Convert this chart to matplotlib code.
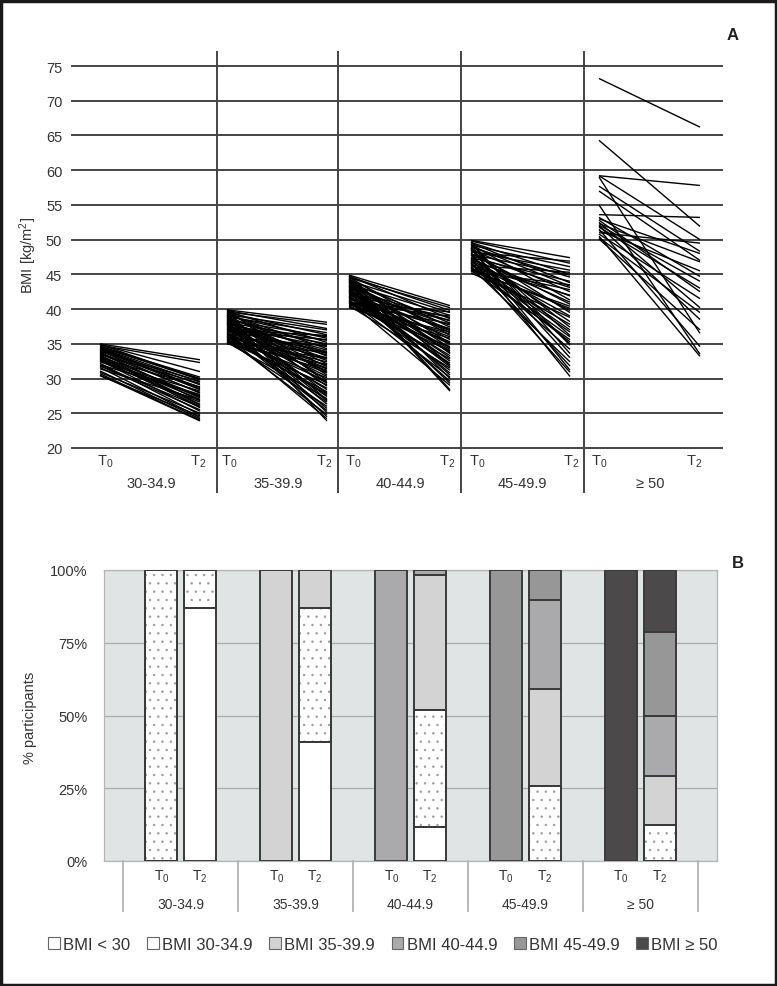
import matplotlib
matplotlib.use('Agg')
import matplotlib.pyplot as plt
from matplotlib.patches import Patch, Rectangle
import matplotlib.transforms as mtrans

plt.rcParams['font.family'] = ['Liberation Sans', 'DejaVu Sans']
plt.rcParams['mathtext.fontset'] = 'custom'
plt.rcParams['mathtext.rm'] = 'Liberation Sans'
plt.rcParams['mathtext.it'] = 'Liberation Sans:italic'
plt.rcParams['hatch.linewidth'] = 0.5

# ---------------- data: panel A (BMI at T0 and T2 per participant) ----------------
groups = ['30-34.9', '35-39.9', '40-44.9', '45-49.9', '\u2265 50']
time_labels = ['T$_0$', 'T$_2$']
bmi_ticks = [20, 25, 30, 35, 40, 45, 50, 55, 60, 65, 70, 75]

g1_t0 = [35.0, 34.8, 34.9, 34.6, 34.7, 34.4, 34.5, 34.2, 34.3, 34.0,
         34.1, 33.8, 33.9, 33.6, 33.7, 33.4, 33.5, 33.2, 33.3, 33.0,
         32.8, 32.9, 32.6, 32.4, 32.5, 32.2, 32.0, 31.8, 31.6, 31.4,
         31.1, 30.9, 30.7, 30.5, 30.4, 34.9, 34.4, 33.1, 32.7, 31.9]
g1_t2 = [32.7, 32.3, 31.0, 30.2, 29.8, 29.5, 30.0, 28.7, 29.1, 27.9,
         28.4, 26.8, 29.6, 27.2, 28.0, 26.3, 29.3, 27.5, 25.8, 28.8,
         26.0, 27.0, 25.3, 28.2, 26.6, 24.8, 27.7, 25.5, 24.4, 26.9,
         24.2, 25.0, 24.0, 23.9, 24.6, 29.9, 28.5, 26.2, 27.4, 25.9]

g2_t0 = [39.9, 39.6, 39.8, 39.2, 38.9, 39.5, 38.4, 39.0, 38.1, 39.7,
         37.8, 38.6, 37.5, 39.3, 38.0, 36.9, 38.8, 37.2, 39.4, 36.5,
         38.3, 37.7, 35.9, 39.1, 36.8, 38.5, 37.0, 35.5, 38.2, 36.3,
         39.8, 37.4, 35.8, 38.7, 36.0, 37.9, 35.3, 39.0, 36.6, 37.3,
         35.6, 38.4, 36.2, 37.6, 35.2, 39.5, 36.4, 38.0, 35.4, 37.1,
         36.7, 38.9, 35.7, 37.8, 36.1, 39.2, 35.1, 35.3, 36.0, 37.0,
         35.0, 36.9, 38.6, 35.9, 37.5, 39.9, 38.1, 36.4]
g2_t2 = [38.1, 37.8, 37.2, 37.0, 36.6, 36.3, 36.0, 35.8, 35.5, 35.2,
         35.0, 34.8, 34.6, 34.3, 34.1, 33.9, 33.7, 33.4, 33.2, 33.0,
         32.8, 32.6, 32.4, 32.1, 31.9, 31.7, 31.5, 31.2, 31.0, 30.8,
         30.5, 30.3, 30.1, 29.8, 29.6, 29.3, 29.1, 28.9, 28.6, 28.4,
         28.1, 27.9, 27.6, 27.4, 27.1, 26.9, 26.6, 26.3, 26.0, 25.7,
         25.4, 25.1, 24.8, 24.5, 24.2, 23.9, 33.8, 32.9, 34.7, 36.2,
         32.0, 35.6, 30.9, 27.8, 33.6, 29.4, 26.8, 31.4]

g3_t0 = [44.9, 44.7, 44.8, 44.5, 44.3, 44.6, 44.1, 44.0, 43.8, 44.4,
         43.6, 43.9, 43.4, 43.2, 43.7, 43.0, 42.8, 43.3, 42.6, 42.9,
         42.4, 42.2, 42.7, 42.0, 41.8, 42.5, 41.6, 41.9, 41.4, 41.2,
         41.7, 41.0, 40.8, 41.3, 40.6, 40.9, 40.4, 40.2, 40.5, 41.1,
         44.2, 43.5, 42.1, 40.7, 43.1, 42.3, 44.8, 41.5, 40.3, 43.9,
         42.6, 41.8, 44.4, 40.9, 43.3]
g3_t2 = [40.5, 39.8, 38.6, 40.2, 37.4, 36.2, 39.5, 35.1, 38.0, 33.6,
         39.1, 34.4, 37.0, 32.5, 36.6, 38.3, 31.7, 35.6, 37.7, 33.0,
         34.9, 36.9, 30.8, 38.8, 34.0, 29.6, 36.0, 32.2, 37.2, 35.3,
         31.2, 33.9, 39.0, 30.2, 36.4, 32.8, 34.6, 35.8, 31.5, 29.0,
         28.4, 30.5, 33.3, 37.9, 29.3, 35.0, 31.9, 38.4, 36.7, 28.2,
         34.2, 32.0, 30.0, 39.6, 33.7]

g4_t0 = [49.9, 49.6, 49.8, 49.3, 49.5, 49.0, 49.2, 48.7, 48.9, 48.4,
         48.6, 48.1, 48.3, 47.8, 48.0, 47.5, 47.7, 47.2, 47.4, 46.9,
         47.1, 46.6, 46.8, 46.3, 46.5, 46.0, 46.2, 45.7, 45.9, 45.4,
         45.6, 45.2, 49.4, 48.8, 47.9, 47.0, 46.4, 45.8, 49.7, 48.2,
         47.3, 46.7, 45.5, 48.5, 46.1, 49.1]
g4_t2 = [47.4, 45.0, 46.6, 41.3, 43.8, 36.2, 46.1, 33.0, 44.6, 39.5,
         42.5, 30.3, 45.6, 35.0, 40.7, 38.2, 43.1, 31.8, 44.0, 37.0,
         41.9, 34.2, 39.0, 45.3, 36.7, 32.4, 42.0, 40.1, 37.8, 43.5,
         35.6, 38.8, 34.8, 31.2, 44.9, 39.8, 36.0, 42.8, 33.6, 46.9,
         41.0, 30.9, 40.4, 37.4, 35.3, 43.3]

g5_t0 = [73.2, 64.3, 59.2, 59.2, 59.0, 57.7, 57.0, 55.0, 53.6, 53.2,
         53.0, 52.8, 52.5, 52.3, 52.0, 51.8, 51.5, 51.3, 51.0, 50.8,
         50.5, 50.3, 50.1, 52.1]
g5_t2 = [66.2, 51.9, 57.8, 50.0, 36.5, 48.3, 47.0, 33.5, 53.2, 44.7,
         48.0, 42.5, 40.2, 46.8, 38.5, 43.0, 34.6, 45.5, 49.5, 41.5,
         33.2, 39.5, 37.0, 44.0]

# ---------------- data: panel B (% participants per BMI class) ----------------
bmi_classes = ['BMI < 30', 'BMI 30-34.9', 'BMI 35-39.9', 'BMI 40-44.9',
               'BMI 45-49.9', 'BMI \u2265 50']
pct_ticks = [0, 25, 50, 75, 100]
pct_tick_labels = ['0%', '25%', '50%', '75%', '100%']
# rows: bars in order (group, T0/T2); columns: BMI classes
t0_pct = [[0, 100, 0, 0, 0, 0],
          [0, 0, 100, 0, 0, 0],
          [0, 0, 0, 100, 0, 0],
          [0, 0, 0, 0, 100, 0],
          [0, 0, 0, 0, 0, 100]]
t2_pct = [[87.0, 13.0, 0, 0, 0, 0],
          [40.8, 46.3, 12.9, 0, 0, 0],
          [11.6, 40.3, 46.5, 1.6, 0, 0],
          [0, 25.7, 33.3, 30.8, 10.2, 0],
          [0, 12.5, 16.6, 20.9, 28.8, 21.2]]

# ---------------- styling / layout ----------------
W, H = 777, 987
class_colors = ['#ffffff', '#ffffff', '#d3d3d3', '#aaaaad', '#979797', '#4c494b']
class_hatch = [None, '..', None, None, None, None]
TXT = '#333333'

fig = plt.figure(figsize=(W / 100, H / 100), dpi=100)


def rect(l, t, r, b):
    return [l / W, 1 - b / H, (r - l) / W, (b - t) / H]


# ================= Panel A =================
ax1 = fig.add_axes(rect(72, 67, 722, 449))
ax1.set_xlim(72, 722)
ax1.set_ylim(20, 75)
T0_X = [100, 227, 349, 471, 599]
T2_X = [200, 327, 450, 570, 700]
DIV_X = [217, 338, 461, 584]
T0_LX = [105, 229, 353, 477, 599]
T2_LX = [198, 324, 447, 571, 694]
GRP_LX = [151, 278, 400, 522, 650]

ax1.set_yticks(bmi_ticks)
ax1.set_yticklabels([str(v) for v in bmi_ticks], fontsize=10.5, color=TXT)
ax1.set_xticks([])
ax1.tick_params(axis='y', length=0, pad=7)
for s in ax1.spines.values():
    s.set_visible(False)
for v in bmi_ticks:
    ax1.axhline(v, color='#444444', lw=1.4, zorder=1, clip_on=False)

series = [(g1_t0, g1_t2), (g2_t0, g2_t2), (g3_t0, g3_t2), (g4_t0, g4_t2), (g5_t0, g5_t2)]
for g, (a, b) in enumerate(series):
    for v0, v2 in zip(a, b):
        ax1.plot([T0_X[g], T2_X[g]], [v0, v2], color='black', lw=1.0,
                 solid_capstyle='butt', zorder=3)

tr1 = mtrans.blended_transform_factory(ax1.transData, ax1.transAxes)
for x in DIV_X:
    ax1.plot([x, x], [1.037, -0.115], transform=tr1, color='#444444', lw=1.4,
             clip_on=False, zorder=2)
for g in range(5):
    ax1.text(T0_LX[g], -0.034, time_labels[0], transform=tr1, ha='center', va='center',
             fontsize=10.5, color=TXT)
    ax1.text(T2_LX[g], -0.034, time_labels[1], transform=tr1, ha='center', va='center',
             fontsize=10.5, color=TXT)
    ax1.text(GRP_LX[g], -0.092, groups[g], transform=tr1, ha='center', va='center',
             fontsize=10.5, color=TXT)

fig.text(28 / W, 1 - 255 / H, 'BMI [kg/m$^2$]', rotation=90, ha='center', va='center',
         fontsize=10.5, color=TXT)
fig.text(733 / W, 1 - 35 / H, 'A', fontweight='bold', fontsize=12, ha='center',
         va='center', color='#222222')

# ================= Panel B =================
ax2 = fig.add_axes(rect(104, 571, 717, 862))
ax2.set_xlim(0, 16)
ax2.set_ylim(0, 100)
ax2.set_facecolor('#e1e4e4')
ax2.set_yticks(pct_ticks)
ax2.set_yticklabels(pct_tick_labels, fontsize=10.5, color=TXT)
ax2.set_xticks([])
ax2.tick_params(axis='y', length=0, pad=12)
ax2.yaxis.grid(True, color='#a9a9a9', lw=0.9)
ax2.set_axisbelow(True)
for s in ax2.spines.values():
    s.set_color('#b5b5b5')
    s.set_linewidth(0.9)

BAR_W = 0.835
for g in range(5):
    for k, pcts in enumerate([t0_pct[g], t2_pct[g]]):
        xc = 3 * g + 1.5 + k
        bottom = 0
        for c, val in enumerate(pcts):
            if val <= 0:
                continue
            ax2.bar(xc, val, BAR_W, bottom=bottom, color=class_colors[c],
                    edgecolor='#3a3a3a', linewidth=1.4, zorder=3)
            if class_hatch[c]:
                ax2.bar(xc, val, BAR_W, bottom=bottom, facecolor='none',
                        edgecolor='#9a9a9a', linewidth=0, hatch=class_hatch[c], zorder=4)
                ax2.bar(xc, val, BAR_W, bottom=bottom, facecolor='none',
                        edgecolor='#3a3a3a', linewidth=1.4, zorder=5)
            bottom += val

tr2 = mtrans.blended_transform_factory(ax2.transData, ax2.transAxes)
for k in range(6):
    x = 3 * k + 0.5
    ax2.plot([x, x], [0, -0.172], transform=tr2, color='#b3b3b3', lw=1.3, clip_on=False)
for g in range(5):
    ax2.text(3 * g + 1.5, -0.052, time_labels[0], transform=tr2, ha='center', va='center',
             fontsize=10, color=TXT)
    ax2.text(3 * g + 2.5, -0.052, time_labels[1], transform=tr2, ha='center', va='center',
             fontsize=10, color=TXT)
    ax2.text(3 * g + 2.0, -0.148, groups[g], transform=tr2, ha='center', va='center',
             fontsize=10, color=TXT)

fig.text(30 / W, 1 - 718 / H, '% participants', rotation=90, ha='center', va='center',
         fontsize=10.5, color=TXT)
fig.text(738 / W, 1 - 563 / H, 'B', fontweight='bold', fontsize=12, ha='center',
         va='center', color='#222222')

handles = [Patch(facecolor=class_colors[i], edgecolor='#666666', linewidth=0.8)
           for i in range(6)]
fig.legend(handles, bmi_classes, loc='center', bbox_to_anchor=(383 / W, 1 - 945 / H),
           ncol=6, frameon=False, fontsize=12, handlelength=0.7, handleheight=0.7,
           handletextpad=0.2, columnspacing=1.0, labelcolor=TXT)

# figure frame
fig.add_artist(Rectangle((0.0015, 0.0015), 0.997, 0.996, transform=fig.transFigure,
                         fill=False, edgecolor='#1a1a1a', lw=2.5))
fig.add_artist(Rectangle((0, 0.997), 1, 0.003, transform=fig.transFigure,
                         facecolor='#1a1a1a', edgecolor='none'))

fig.savefig('out.png', dpi=100, facecolor='white')
